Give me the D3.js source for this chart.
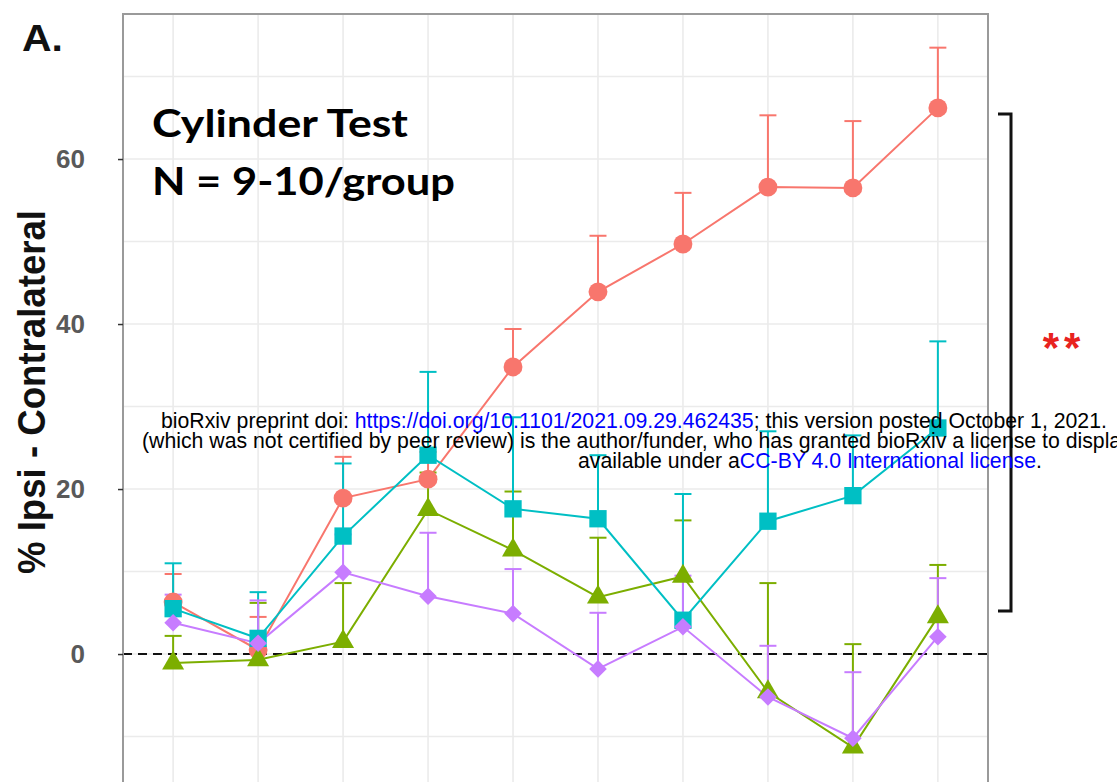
<!DOCTYPE html>
<html>
<head>
<meta charset="utf-8">
<script src="https://cdn.jsdelivr.net/npm/d3@7"></script>
<style>
  html, body { margin: 0; padding: 0; background: #fff; overflow: hidden; }
  svg { display: block; }
</style>
</head>
<body>
<svg id="chart" width="1117" height="782"></svg>
<script>
// ---------------- data ----------------
const timepoints = [1, 2, 3, 4, 5, 6, 7, 8, 9, 10];
const yTickValues = [0, 20, 40, 60];

const redMean    = [6.3, 0.5, 18.9, 21.2, 34.8, 43.9, 49.7, 56.6, 56.5, 66.2];
const redUpper   = [9.7, 4.5, 23.9, 24.5, 39.4, 50.7, 55.9, 65.3, 64.6, 73.5];

const greenMean  = [-1.1, -0.7, 1.5, 17.5, 12.6, 6.9, 9.4, -4.6, -11.3, 4.5];
const greenUpper = [2.2, 6.2, 8.6, 22.0, 19.7, 14.1, 16.2, 8.6, 1.2, 10.8];

const cyanMean   = [5.5, 1.9, 14.3, 24.1, 17.6, 16.4, 4.1, 16.1, 19.2, 27.4];
const cyanUpper  = [11.0, 7.5, 23.1, 34.2, 28.7, 24.1, 19.4, 27.0, 26.5, 37.9];

const purpleMean  = [3.8, 1.3, 9.9, 7.0, 4.9, -1.8, 3.3, -5.2, -10.2, 2.1];
const purpleUpper = [7.2, 6.5, 14.5, 14.7, 10.3, 5.0, 9.5, 1.0, -2.2, 9.2];

const seriesNames  = ["red", "green", "cyan", "purple"];
const seriesColors = ["#F8766D", "#7CAE00", "#00BFC4", "#C77CFF"];
const seriesShapes = ["circle", "triangle", "square", "diamond"];
const seriesMeans  = [redMean, greenMean, cyanMean, purpleMean];
const seriesUppers = [redUpper, greenUpper, cyanUpper, purpleUpper];

const titleLines = ["Cylinder Test", "N = 9-10/group"];
const yTitle = "% Ipsi - Contralateral";
const panelLabel = "A.";
const sigLabel = "**";

// ---------------- layout ----------------
const svg = d3.select("#chart");
const P = { left: 123, right: 988, top: 14, bottom: 800 };

const x = d3.scalePoint().domain(timepoints).range([P.left, P.right]).padding(0.59);
const y = d3.scaleLinear().domain([-15.51, 77.58]).range([782, 14]);

// panel background
svg.append("rect").attr("x", P.left).attr("y", P.top)
  .attr("width", P.right - P.left).attr("height", P.bottom - P.top)
  .attr("fill", "#fff");

svg.append("clipPath").attr("id", "pclip")
  .append("rect").attr("x", P.left).attr("y", P.top)
  .attr("width", P.right - P.left).attr("height", P.bottom - P.top);

const plot = svg.append("g").attr("clip-path", "url(#pclip)");

// gridlines
const hGrid = d3.range(-10, 80, 10);
plot.selectAll("line.hg").data(hGrid).join("line")
  .attr("x1", P.left).attr("x2", P.right)
  .attr("y1", d => y(d)).attr("y2", d => y(d))
  .attr("stroke", "#ebebeb").attr("stroke-width", 1.6);
plot.selectAll("line.vg").data(timepoints).join("line")
  .attr("x1", d => x(d)).attr("x2", d => x(d))
  .attr("y1", P.top).attr("y2", P.bottom)
  .attr("stroke", "#ebebeb").attr("stroke-width", 1.6);

// zero dashed line
plot.append("line")
  .attr("x1", P.left).attr("x2", P.right)
  .attr("y1", y(0)).attr("y2", y(0))
  .attr("stroke", "#111").attr("stroke-width", 2)
  .attr("stroke-dasharray", "9,6");

// lines
const lineGen = d3.line().x((d, i) => x(timepoints[i])).y(d => y(d));
seriesMeans.forEach((m, s) => {
  plot.append("path").datum(m)
    .attr("d", lineGen)
    .attr("fill", "none")
    .attr("stroke", seriesColors[s])
    .attr("stroke-width", 2);
});

// error bars (upper only)
const capW = 17;
seriesMeans.forEach((m, s) => {
  const g = plot.append("g").attr("stroke", seriesColors[s]).attr("stroke-width", 2);
  timepoints.forEach((t, i) => {
    g.append("line").attr("x1", x(t)).attr("x2", x(t))
      .attr("y1", y(m[i])).attr("y2", y(seriesUppers[s][i]));
    g.append("line").attr("x1", x(t) - capW / 2).attr("x2", x(t) + capW / 2)
      .attr("y1", y(seriesUppers[s][i])).attr("y2", y(seriesUppers[s][i]));
  });
});

// points
function symbolPath(shape) {
  if (shape === "circle") return d3.symbol(d3.symbolCircle, 280)();
  if (shape === "square") return d3.symbol(d3.symbolSquare, 300)();
  if (shape === "triangle") return d3.symbol(d3.symbolTriangle, 210)();
  if (shape === "diamond") return d3.symbol(d3.symbolSquare, 155)();
}
seriesMeans.forEach((m, s) => {
  const shape = seriesShapes[s];
  plot.append("g").selectAll("path").data(m).join("path")
    .attr("d", symbolPath(shape))
    .attr("transform", (d, i) => `translate(${x(timepoints[i])},${y(d)})` + (shape === "diamond" ? " rotate(45)" : ""))
    .attr("fill", seriesColors[s]);
});

// panel border
svg.append("rect").attr("x", P.left).attr("y", P.top)
  .attr("width", P.right - P.left).attr("height", P.bottom - P.top)
  .attr("fill", "none").attr("stroke", "#9a9a9a").attr("stroke-width", 2);

// y axis
const yAxis = d3.axisLeft(y).tickValues(yTickValues).tickSize(5).tickPadding(33).tickFormat(d3.format("d"));
const ax = svg.append("g").attr("transform", `translate(${P.left},0)`).call(yAxis);
ax.select(".domain").remove();
ax.selectAll(".tick line").attr("stroke", "#333").attr("stroke-width", 1.5);
ax.selectAll(".tick text")
  .attr("fill", "#595959")
  .style("font-family", "'Liberation Sans', Arial, sans-serif")
  .style("font-weight", "bold")
  .style("font-size", "26px");

// y title
svg.append("text")
  .attr("transform", "translate(45,392) rotate(-90)")
  .attr("text-anchor", "middle")
  .attr("textLength", 364).attr("lengthAdjust", "spacingAndGlyphs")
  .style("font-family", "'Liberation Sans', Arial, sans-serif")
  .style("font-weight", "bold").style("font-size", "38px")
  .attr("fill", "#111")
  .text(yTitle);

// panel label
svg.append("text").attr("x", 22).attr("y", 51)
  .style("font-family", "'Liberation Sans', Arial, sans-serif")
  .style("font-weight", "bold").style("font-size", "36px")
  .attr("textLength", 41).attr("lengthAdjust", "spacingAndGlyphs")
  .attr("fill", "#111").text(panelLabel);

// title block
svg.append("text").attr("x", 152).attr("y", 137)
  .attr("textLength", 256).attr("lengthAdjust", "spacingAndGlyphs")
  .style("font-family", "Lato, 'Open Sans', sans-serif")
  .style("font-weight", "bold").style("font-size", "38px")
  .attr("fill", "#000").text(titleLines[0]);
svg.append("text").attr("x", 152).attr("y", 195)
  .attr("textLength", 303).attr("lengthAdjust", "spacingAndGlyphs")
  .style("font-family", "Lato, 'Open Sans', sans-serif")
  .style("font-weight", "bold").style("font-size", "38px")
  .attr("fill", "#000").text(titleLines[1]);

// significance bracket
const br = { x: 1011, xTick: 998, y1: 114, y2: 611 };
svg.append("path")
  .attr("d", `M${br.xTick},${br.y1}H${br.x}V${br.y2}H${br.xTick}`)
  .attr("fill", "none").attr("stroke", "#111").attr("stroke-width", 3);
svg.append("text").attr("x", 1064).attr("y", 362)
  .attr("text-anchor", "middle")
  .style("font-family", "'Liberation Sans', Arial, sans-serif")
  .style("font-weight", "bold")
  .style("font-size", "42px").attr("fill", "#e8231f")
  .attr("letter-spacing", "5px")
  .text(sigLabel);

// bioRxiv watermark
const wm = svg.append("g").style("font-family", "'Liberation Sans', Arial, sans-serif");
const l1 = wm.append("text").attr("x", 161).attr("y", 428).style("font-size", "18px");
l1.append("tspan").attr("fill", "#000").text("bioRxiv preprint doi: ");
l1.append("tspan").attr("fill", "#0000ff").text("https://doi.org/10.1101/2021.09.29.462435");
l1.append("tspan").attr("fill", "#000").text("; this version posted October 1, 2021.");
const natural = l1.node().getComputedTextLength();
const fs = 18 * 946 / natural;
l1.style("font-size", fs + "px");
wm.append("text").attr("x", 142).attr("y", 448).style("font-size", fs + "px").attr("fill", "#000")
  .text("(which was not certified by peer review) is the author/funder, who has granted bioRxiv a license to display the preprint in perpetuity. It is made");
const l3 = wm.append("text").attr("x", 578).attr("y", 468).style("font-size", fs + "px");
l3.append("tspan").attr("fill", "#000").text("available under a");
l3.append("tspan").attr("fill", "#0000ff").text("CC-BY 4.0 International license");
l3.append("tspan").attr("fill", "#000").text(".");
</script>
</body>
</html>
